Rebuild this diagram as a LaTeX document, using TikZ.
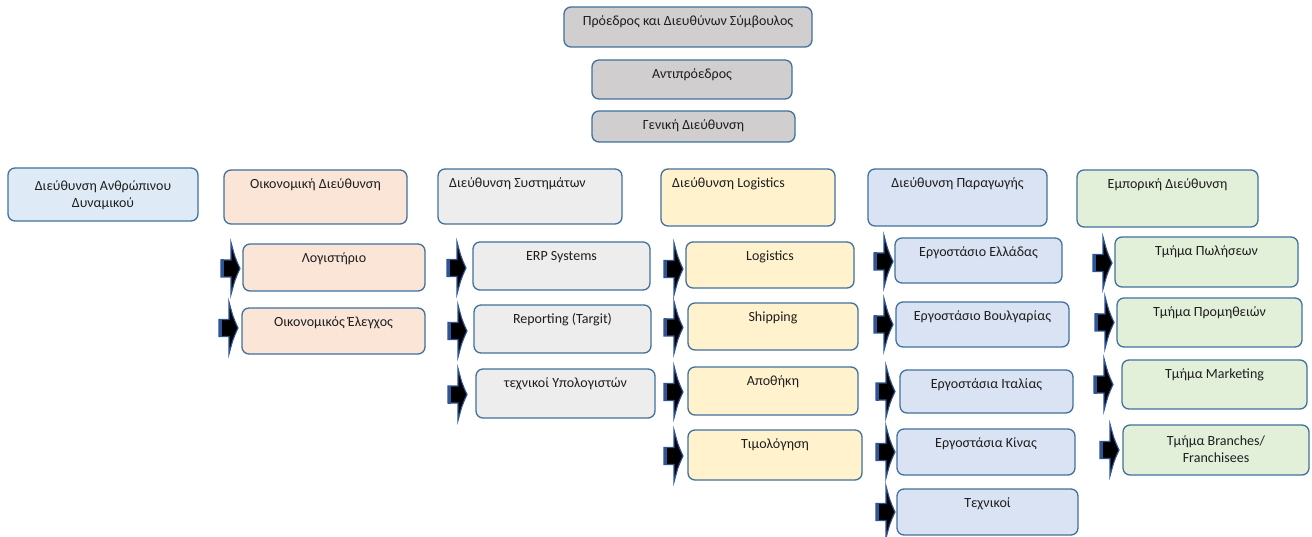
\documentclass[tikz,border=0pt]{standalone}
\usepackage{fontspec}
\setmainfont{Carlito}
\definecolor{bordc}{HTML}{41719C}
\definecolor{arrb}{HTML}{2E5597}
\definecolor{txt}{HTML}{1E1E1E}
\definecolor{topgray}{HTML}{D0CECE}
\definecolor{hrblue}{HTML}{DEEBF7}
\definecolor{finpeach}{HTML}{FBE5D6}
\definecolor{sysgray}{HTML}{EDEDED}
\definecolor{logyel}{HTML}{FFF2CC}
\definecolor{prodblue}{HTML}{DAE3F3}
\definecolor{comgreen}{HTML}{E2F0D9}
\tikzset{
  box/.style={draw=bordc, line width=1.3pt, rounded corners=7pt, anchor=north west, inner sep=0pt, outer sep=0pt},
  lbl/.style={font=\fontsize{14}{17}\selectfont, text=txt, inner sep=0pt},
  blockarrow/.pic={
    \path[fill=black, draw=arrb, line width=1.1pt, line join=miter]
      (-19,-8.5) -- (-9,-8.5) -- (-9,-26) .. controls (-5,-11) .. (0,0)
      .. controls (-5,11) .. (-9,26) -- (-9,8.5) -- (-19,8.5) -- cycle;
    \fill[arrb] (-19.5,-9) rectangle (-16,9);
  }
}
\newcommand\orgbox[8][]{%
  \node[box, fill=#7, minimum width={#5pt-#3pt}, minimum height={#6pt-#4pt},
    label={[lbl, anchor=base, yshift=-18.5pt, #1]north:#8}] (#2) at (#3,#4) {};}
\newcommand\orgarrow[3]{\pic at ([xshift=#2pt, yshift=#3pt]#1.west) {blockarrow};}
\begin{document}
\begin{tikzpicture}[x=1pt, y=-1pt]
\useasboundingbox[fill=white] (0,0) rectangle (1312,537);
% top
\orgbox{pres}{564}{7}{812}{47}{topgray}{Πρόεδρος και Διευθύνων Σύμβουλος}
\orgbox{vp}{592}{60}{792}{99}{topgray}{Αντιπρόεδρος}
\orgbox{gd}{592}{111}{795}{142}{topgray}{Γενική Διεύθυνση}
% directors
\orgbox[align=center, anchor=north, yshift=6pt]{hr}{8}{168}{198}{221}{hrblue}{Διεύθυνση Ανθρώπινου\\Δυναμικού}
\orgbox{fin}{224}{170}{407}{224}{finpeach}{Οικονομική Διεύθυνση}
\orgbox[anchor=base west, xshift=-81pt]{sys}{438}{169}{622}{224}{sysgray}{Διεύθυνση Συστημάτων}
\orgbox[anchor=base west, xshift=-76pt]{log}{661}{169}{835}{226}{logyel}{Διεύθυνση Logistics}
\orgbox{prod}{868}{169}{1047}{226}{prodblue}{Διεύθυνση Παραγωγής}
\orgbox{com}{1077}{170}{1258}{227}{comgreen}{Εμπορική Διεύθυνση}
% finance
\orgbox{fin1}{243}{244}{425}{291}{finpeach}{Λογιστήριο}
\orgbox{fin2}{242}{308}{425}{354}{finpeach}{Οικονομικός Έλεγχος}
% systems
\orgbox{sys1}{473}{242}{650}{290}{sysgray}{ERP Systems}
\orgbox{sys2}{474}{305}{651}{353}{sysgray}{Reporting (Targit)}
\orgbox{sys3}{476}{369}{655}{418}{sysgray}{τεχνικοί Υπολογιστών}
% logistics
\orgbox{log1}{686}{242}{854}{288}{logyel}{Logistics}
\orgbox{log2}{688}{303}{858}{350}{logyel}{Shipping}
\orgbox{log3}{688}{367}{858}{415}{logyel}{Αποθήκη}
\orgbox{log4}{688}{430}{862}{480}{logyel}{Τιμολόγηση}
% production
\orgbox{prod1}{895}{238}{1062}{283}{prodblue}{Εργοστάσιο Ελλάδας}
\orgbox{prod2}{896}{302}{1069}{347}{prodblue}{Εργοστάσιο Βουλγαρίας}
\orgbox{prod3}{900}{370}{1073}{413}{prodblue}{Εργοστάσια Ιταλίας}
\orgbox{prod4}{897}{429}{1075}{475}{prodblue}{Εργοστάσια Κίνας}
\orgbox{prod5}{897}{489}{1078}{535}{prodblue}{Τεχνικοί}
% commercial
\orgbox{com1}{1115}{237}{1298}{287}{comgreen}{Τμήμα Πωλήσεων}
\orgbox{com2}{1117}{298}{1302}{347}{comgreen}{Τμήμα Προμηθειών}
\orgbox{com3}{1122}{360}{1307}{409}{comgreen}{Τμήμα Marketing}
\orgbox[align=center, anchor=north, yshift=8pt]{com4}{1123}{425}{1309}{475}{comgreen}{Τμήμα Branches/\\Franchisees}
% arrows
\orgarrow{fin1}{-3}{-1}
\orgarrow{fin2}{-4}{3}
\orgarrow{sys1}{-7}{-2}
\orgarrow{sys2}{-7}{-2}
\orgarrow{sys3}{-9}{-1}
\orgarrow{log1}{-3}{-4}
\orgarrow{log2}{-5}{-1}
\orgarrow{log3}{-5}{-1}
\orgarrow{log4}{-5}{-1}
\orgarrow{prod1}{-2}{-1}
\orgarrow{prod2}{-3}{0}
\orgarrow{prod3}{-5}{0}
\orgarrow{prod4}{-2}{0}
\orgarrow{prod5}{-2}{0}
\orgarrow{com1}{-3}{-1}
\orgarrow{com2}{-3}{0}
\orgarrow{com3}{-9}{0}
\orgarrow{com4}{-4}{0}
\end{tikzpicture}
\end{document}
